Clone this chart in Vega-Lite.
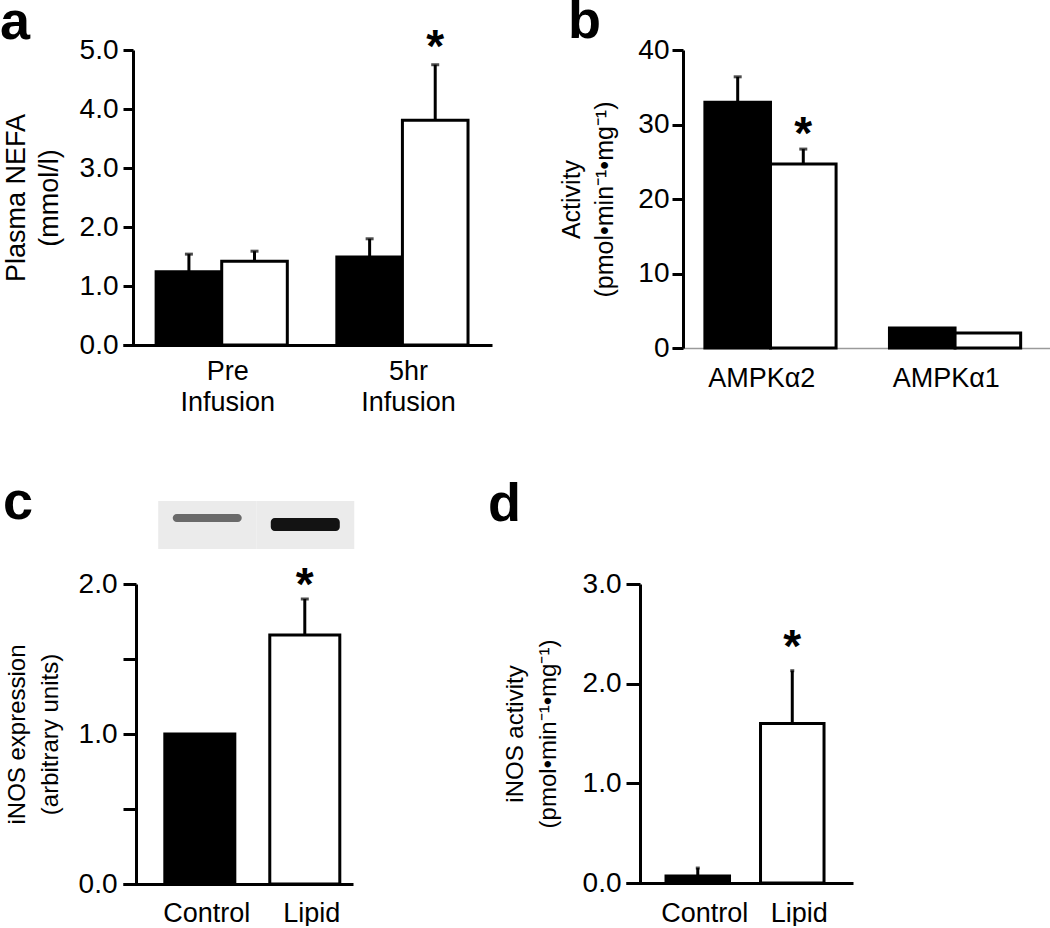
{
  "$schema": "https://vega.github.io/schema/vega-lite/v6.json",
  "padding": {"top": -5, "left": 0, "right": 0, "bottom": 0},
  "background": "white",
  "datasets": {
    "nefa": [
      {"time": "Pre Infusion", "group": "Control", "mean": 1.24, "upper": 1.54, "sig": false},
      {"time": "Pre Infusion", "group": "Lipid", "mean": 1.42, "upper": 1.59, "sig": false},
      {"time": "5hr Infusion", "group": "Control", "mean": 1.49, "upper": 1.80, "sig": false},
      {"time": "5hr Infusion", "group": "Lipid", "mean": 3.81, "upper": 4.75, "sig": true}
    ],
    "ampk": [
      {"isoform": "AMPKα2", "group": "Control", "mean": 33.0, "upper": 36.4, "sig": false},
      {"isoform": "AMPKα2", "group": "Lipid", "mean": 24.7, "upper": 26.7, "sig": true},
      {"isoform": "AMPKα1", "group": "Control", "mean": 2.7, "upper": 2.7, "sig": false},
      {"isoform": "AMPKα1", "group": "Lipid", "mean": 2.0, "upper": 2.0, "sig": false}
    ],
    "expression": [
      {"treatment": "Control", "mean": 1.0, "upper": 1.0, "sig": false},
      {"treatment": "Lipid", "mean": 1.66, "upper": 1.90, "sig": true}
    ],
    "activity": [
      {"treatment": "Control", "mean": 0.07, "upper": 0.15, "sig": false},
      {"treatment": "Lipid", "mean": 1.6, "upper": 2.13, "sig": true}
    ],
    "blot": [
      {"lane": "Control", "top": 13, "bottom": 21, "intensity": 0.55},
      {"lane": "Lipid", "top": 17, "bottom": 30, "intensity": 0.94}
    ]
  },
  "vconcat": [
    {
      "hconcat": [
        {
          "width": 369,
          "height": 295,
          "title": {"text": "a", "anchor": "start", "frame": "group", "dx": -123, "dy": 25, "offset": 0},
          "data": {"name": "nefa"},
          "encoding": {
            "x": {"field": "time", "type": "nominal", "sort": ["Pre Infusion", "5hr Infusion"],
              "scale": {"paddingInner": 0.274, "paddingOuter": 0.158, "align": 0.58},
              "axis": {"title": null, "labelExpr": "split(datum.label, ' ')", "labelLineHeight": 31, "labelPadding": 13, "labelOffset": 6}},
            "xOffset": {"field": "group", "sort": ["Control", "Lipid"], "scale": {"paddingInner": 0, "paddingOuter": 0}}
          },
          "layer": [
            {
              "mark": {"type": "bar", "stroke": "black", "strokeWidth": 3},
              "encoding": {
                "y": {"field": "mean", "type": "quantitative", "scale": {"domain": [0, 5]},
                  "axis": {"values": [0, 1, 2, 3, 4, 5], "format": ".1f", "title": ["Plasma NEFA", "(mmol/l)"], "titleFontSize": 27, "offset": -10, "tickSize": 10, "labelPadding": 5, "titlePadding": 16}},
                "fill": {"field": "group", "type": "nominal", "scale": {"domain": ["Control", "Lipid"], "range": ["black", "white"]}, "legend": null}
              }
            },
            {
              "mark": {"type": "rule", "strokeWidth": 3, "color": "black"},
              "encoding": {"y": {"field": "mean", "type": "quantitative"}, "y2": {"field": "upper"}}
            },
            {
              "mark": {"type": "tick", "thickness": 3, "size": 8, "color": "black"},
              "encoding": {"y": {"field": "upper", "type": "quantitative"}}
            },
            {
              "transform": [{"filter": "datum.sig"}],
              "mark": {"type": "text", "text": "*", "fontSize": 46, "fontWeight": "bold", "baseline": "alphabetic", "dy": -3},
              "encoding": {"y": {"field": "upper", "type": "quantitative"}}
            }
          ]
        },
        {
          "width": 378,
          "height": 298,
          "title": {"text": "b", "anchor": "start", "frame": "group", "dx": -104, "dy": 13, "offset": 0},
          "data": {"name": "ampk"},
          "encoding": {
            "x": {"field": "isoform", "type": "nominal", "sort": ["AMPKα2", "AMPKα1"],
              "scale": {"paddingInner": 0.276, "paddingOuter": 0.162, "align": 0.55},
              "axis": {"title": null, "labelPadding": 17, "labelOffset": -10, "domainColor": "#9a9a9a", "domainWidth": 1.5}},
            "xOffset": {"field": "group", "sort": ["Control", "Lipid"], "scale": {"paddingInner": 0, "paddingOuter": 0}}
          },
          "layer": [
            {
              "mark": {"type": "bar", "stroke": "black", "strokeWidth": 3},
              "encoding": {
                "y": {"field": "mean", "type": "quantitative", "scale": {"domain": [0, 40]},
                  "axis": {"values": [0, 10, 20, 30, 40], "format": "d", "title": ["Activity", "(pmol•min⁻¹•mg⁻¹)"], "titleFontSize": 25, "offset": -11, "tickSize": 11, "labelPadding": 3, "titlePadding": 20}},
                "fill": {"field": "group", "type": "nominal", "scale": {"domain": ["Control", "Lipid"], "range": ["black", "white"]}, "legend": null}
              }
            },
            {
              "transform": [{"filter": "datum.upper > datum.mean"}],
              "mark": {"type": "rule", "strokeWidth": 3, "color": "black"},
              "encoding": {"y": {"field": "mean", "type": "quantitative"}, "y2": {"field": "upper"}}
            },
            {
              "transform": [{"filter": "datum.upper > datum.mean"}],
              "mark": {"type": "tick", "thickness": 3, "size": 8, "color": "black"},
              "encoding": {"y": {"field": "upper", "type": "quantitative"}}
            },
            {
              "transform": [{"filter": "datum.sig"}],
              "mark": {"type": "text", "text": "*", "fontSize": 46, "fontWeight": "bold", "baseline": "alphabetic", "dy": 0},
              "encoding": {"y": {"field": "upper", "type": "quantitative"}}
            }
          ]
        }
      ],
      "spacing": 180,
      "bounds": "flush"
    },
    {
      "hconcat": [
        {
          "width": 230,
          "height": 300,
          "title": {"text": "c", "anchor": "start", "frame": "group", "dx": -120, "dy": 29, "offset": 0},
          "layer": [
            {
              "data": {"name": "blot"},
              "encoding": {
                "x": {"field": "lane", "type": "nominal", "sort": ["Control", "Lipid"], "scale": {"paddingInner": 0.296, "paddingOuter": 0.321, "align": 0.79}, "axis": null}
              },
              "layer": [
                {
                  "mark": {"type": "bar", "fill": "#ebebeb", "width": {"band": 1.42}},
                  "encoding": {
                    "y": {"datum": 0, "type": "quantitative", "scale": {"domain": [83, 383], "reverse": true}, "axis": null},
                    "y2": {"datum": 48}
                  }
                },
                {
                  "mark": {"type": "bar", "cornerRadius": 4},
                  "encoding": {
                    "y": {"field": "top", "type": "quantitative", "scale": {"domain": [83, 383], "reverse": true}, "axis": null},
                    "y2": {"field": "bottom"},
                    "fill": {"field": "intensity", "type": "quantitative", "scale": {"domain": [0, 1], "range": ["#ffffff", "#000000"]}, "legend": null}
                  }
                }
              ]
            },
            {
              "data": {"name": "expression"},
              "encoding": {
                "x": {"field": "treatment", "type": "nominal", "sort": ["Control", "Lipid"],
                  "scale": {"paddingInner": 0.333, "paddingOuter": 0.262, "align": 0.76},
                  "axis": {"title": null, "labelPadding": 16, "labelOffset": 7}}
              },
              "layer": [
                {
                  "mark": {"type": "bar", "stroke": "black", "strokeWidth": 3},
                  "encoding": {
                    "y": {"field": "mean", "type": "quantitative", "scale": {"domain": [0, 2]},
                      "axis": {"values": [0, 0.5, 1, 1.5, 2], "labelExpr": "datum.value % 1 === 0 ? format(datum.value, '.1f') : ''", "title": ["iNOS expression", "(arbitrary units)"], "titleFontSize": 24, "offset": -13, "tickSize": 13, "labelPadding": 6, "titlePadding": 16}},
                    "fill": {"field": "treatment", "type": "nominal", "scale": {"domain": ["Control", "Lipid"], "range": ["black", "white"]}, "legend": null}
                  }
                },
                {
                  "transform": [{"filter": "datum.upper > datum.mean"}],
                  "mark": {"type": "rule", "strokeWidth": 3, "color": "black"},
                  "encoding": {"y": {"field": "mean", "type": "quantitative"}, "y2": {"field": "upper"}}
                },
                {
                  "transform": [{"filter": "datum.upper > datum.mean"}],
                  "mark": {"type": "tick", "thickness": 3, "size": 8, "color": "black"},
                  "encoding": {"y": {"field": "upper", "type": "quantitative"}}
                },
                {
                  "transform": [{"filter": "datum.sig"}],
                  "mark": {"type": "text", "text": "*", "fontSize": 46, "fontWeight": "bold", "baseline": "alphabetic", "dy": 1},
                  "encoding": {"y": {"field": "upper", "type": "quantitative"}}
                }
              ]
            }
          ],
          "resolve": {"scale": {"x": "independent", "y": "independent", "fill": "independent"}}
        },
        {
          "width": 227,
          "height": 299,
          "title": {"text": "d", "anchor": "start", "frame": "group", "dx": -138, "dy": -38, "offset": 0},
          "data": {"name": "activity"},
          "encoding": {
            "x": {"field": "treatment", "type": "nominal", "sort": ["Control", "Lipid"],
              "scale": {"paddingInner": 0.328, "paddingOuter": 0.365, "align": 0.58},
              "axis": {"title": null, "labelPadding": 17, "labelOffset": 7}}
          },
          "layer": [
            {
              "mark": {"type": "bar", "stroke": "black", "strokeWidth": 3},
              "encoding": {
                "y": {"field": "mean", "type": "quantitative", "scale": {"domain": [0, 3]},
                  "axis": {"values": [0, 1, 2, 3], "format": ".1f", "title": ["iNOS activity", "(pmol•min⁻¹•mg⁻¹)"], "titleFontSize": 24, "offset": -14, "tickSize": 14, "labelPadding": 5, "titlePadding": 22}},
                "fill": {"field": "treatment", "type": "nominal", "scale": {"domain": ["Control", "Lipid"], "range": ["black", "white"]}, "legend": null}
              }
            },
            {
              "mark": {"type": "rule", "strokeWidth": 3, "color": "black"},
              "encoding": {"y": {"field": "mean", "type": "quantitative"}, "y2": {"field": "upper"}}
            },
            {
              "mark": {"type": "tick", "thickness": 3, "size": 4, "color": "black"},
              "encoding": {"y": {"field": "upper", "type": "quantitative"}}
            },
            {
              "transform": [{"filter": "datum.sig"}],
              "mark": {"type": "text", "text": "*", "fontSize": 46, "fontWeight": "bold", "baseline": "alphabetic", "dy": -9},
              "encoding": {"y": {"field": "upper", "type": "quantitative"}}
            }
          ]
        }
      ],
      "spacing": 273,
      "bounds": "flush"
    }
  ],
  "spacing": 61,
  "config": {
    "font": "Liberation Sans",
    "view": {"stroke": null},
    "title": {"fontSize": 54, "fontWeight": "bold", "color": "black", "baseline": "alphabetic", "font": "Liberation Sans"},
    "axis": {
      "grid": false,
      "domainColor": "black",
      "domainWidth": 3,
      "tickColor": "black",
      "tickWidth": 3,
      "labelColor": "black",
      "labelFontSize": 28,
      "labelFont": "Liberation Sans",
      "labelAngle": 0,
      "labelFlush": false,
      "labelOverlap": false,
      "titleColor": "black",
      "titleFontSize": 25,
      "titleFontWeight": "normal",
      "titleFont": "Liberation Sans",
      "titleLineHeight": 33
    },
    "axisX": {"ticks": false, "tickSize": 0, "labelFontSize": 27}
  }
}
